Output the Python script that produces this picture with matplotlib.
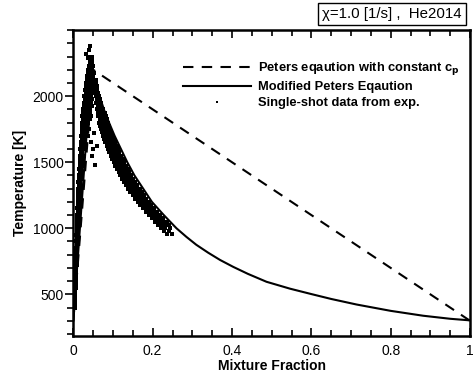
import matplotlib
matplotlib.use('Agg')
import matplotlib.pyplot as plt
from matplotlib.ticker import MultipleLocator

plt.rcParams['font.family'] = ['Liberation Sans', 'DejaVu Sans']

# Peters equation with constant cp (dashed)
peters_z = [0.0, 0.05, 1.0]
peters_T = [300, 2200, 300]

# Modified Peters equation (solid)
mod_z = [0.0, 0.045, 0.055, 0.065, 0.077, 0.09, 0.104, 0.12, 0.136, 0.154,
         0.176, 0.198, 0.228, 0.26, 0.285, 0.31, 0.34, 0.37, 0.403, 0.44,
         0.487, 0.546, 0.6, 0.65, 0.714, 0.8, 0.882, 0.95, 1.0]
mod_T = [300, 2200, 2100, 2010, 1900, 1800, 1700, 1600, 1500, 1400,
         1300, 1200, 1100, 1000, 935, 875, 815, 760, 708, 655,
         595, 543, 502, 465, 423, 375, 338, 315, 303]

# single-shot experimental data, read off the picture row by row
# (temperature level -> mixture fractions of the dots at that level)
exp_T_levels = [
    400, 425, 450, 475, 500, 525, 550, 575, 600, 625, 650, 675, 700, 725, 750,
    775, 800, 825, 850, 875, 900, 925, 950, 975, 1000, 1025, 1050, 1075, 1100,
    1125, 1150, 1175, 1200, 1225, 1250, 1275, 1300, 1325, 1350, 1375, 1400,
    1425, 1450, 1475, 1500, 1525, 1550, 1575, 1600, 1625, 1650, 1675, 1700,
    1725, 1750, 1775, 1800, 1825, 1850, 1875, 1900, 1925, 1950, 1975, 2000,
    2025, 2050, 2075, 2100, 2125, 2150, 2175, 2200, 2225, 2250, 2275, 2300,
    2290, 2320, 2350, 2380,
    # falling branch
    2125, 2100, 2075, 2050, 2025, 2000, 1975, 1950, 1925, 1900, 1875, 1850,
    1825, 1800, 1775, 1750, 1725, 1700, 1675, 1650, 1625, 1600, 1575, 1550,
    1525, 1500, 1475, 1450, 1425, 1400, 1375, 1350, 1325, 1300, 1275, 1250,
    1225, 1200, 1175, 1150, 1125, 1100, 1075, 1050, 1025, 1000, 980, 960,
    # scattered dots inside the peak
    1750, 1720, 1700, 1650, 1620, 1600, 1550, 1480,
]
exp_z_at_level = [
    [0.003], [0.004], [0.004], [0.003, 0.005], [0.004, 0.005], [0.005],
    [0.004, 0.006], [0.005, 0.006], [0.005, 0.006], [0.004, 0.007],
    [0.005, 0.007], [0.006], [0.005, 0.007], [0.006, 0.008], [0.006, 0.008],
    [0.007], [0.006, 0.008], [0.007, 0.009], [0.006, 0.009], [0.008],
    [0.007, 0.009], [0.008, 0.010], [0.007, 0.010], [0.009, 0.011],
    [0.008, 0.011], [0.009, 0.012], [0.009, 0.012], [0.010, 0.013],
    [0.010, 0.013], [0.011, 0.014], [0.010, 0.014], [0.012, 0.015],
    [0.011, 0.015], [0.012, 0.016], [0.012, 0.016], [0.013, 0.017],
    [0.012, 0.017], [0.014, 0.018], [0.013, 0.018], [0.015, 0.019],
    [0.014, 0.019, 0.023], [0.016, 0.020], [0.015, 0.020],
    [0.017, 0.021, 0.024], [0.016, 0.021, 0.025], [0.018, 0.022],
    [0.017, 0.022, 0.026], [0.019, 0.023], [0.018, 0.023, 0.027],
    [0.020, 0.025, 0.029], [0.019, 0.024, 0.030], [0.021, 0.026],
    [0.020, 0.025, 0.028, 0.033], [0.022, 0.027, 0.031],
    [0.021, 0.026, 0.031, 0.036], [0.023, 0.028, 0.033],
    [0.022, 0.027, 0.032, 0.038], [0.024, 0.029, 0.035, 0.041],
    [0.023, 0.028, 0.034, 0.045], [0.025, 0.030, 0.037, 0.043],
    [0.024, 0.029, 0.035, 0.042], [0.027, 0.032, 0.039, 0.047],
    [0.026, 0.031, 0.037, 0.044], [0.029, 0.035, 0.041, 0.048],
    [0.028, 0.033, 0.038, 0.045], [0.031, 0.036, 0.043, 0.050],
    [0.030, 0.035, 0.040, 0.046], [0.033, 0.038, 0.044, 0.051],
    [0.032, 0.037, 0.042, 0.048], [0.034, 0.040, 0.046, 0.052],
    [0.035, 0.040, 0.045, 0.050], [0.037, 0.043, 0.048, 0.053],
    [0.038, 0.043, 0.048], [0.040, 0.045, 0.050], [0.041, 0.046],
    [0.043, 0.048], [0.042, 0.046],
    [0.036], [0.033], [0.040], [0.042],
    # falling branch
    [0.053, 0.056], [0.054, 0.058], [0.055, 0.059], [0.056, 0.060],
    [0.058, 0.062], [0.056, 0.060, 0.064], [0.059, 0.063, 0.067],
    [0.058, 0.063, 0.069], [0.061, 0.066, 0.071], [0.060, 0.066, 0.071, 0.076],
    [0.063, 0.069, 0.074, 0.079], [0.062, 0.069, 0.075, 0.082],
    [0.066, 0.072, 0.078, 0.084], [0.065, 0.072, 0.079, 0.087],
    [0.068, 0.075, 0.082, 0.089], [0.070, 0.077, 0.084, 0.093],
    [0.073, 0.080, 0.087, 0.095], [0.075, 0.082, 0.090, 0.099],
    [0.078, 0.085, 0.093, 0.102], [0.080, 0.088, 0.096, 0.106],
    [0.084, 0.091, 0.099, 0.109], [0.087, 0.095, 0.103, 0.113],
    [0.090, 0.098, 0.107, 0.116], [0.094, 0.102, 0.111, 0.120],
    [0.098, 0.106, 0.115, 0.124], [0.102, 0.110, 0.119, 0.128],
    [0.106, 0.114, 0.123, 0.132], [0.110, 0.118, 0.127, 0.137],
    [0.114, 0.122, 0.131, 0.141], [0.118, 0.127, 0.136, 0.146],
    [0.123, 0.132, 0.141, 0.151], [0.128, 0.137, 0.146, 0.156],
    [0.133, 0.142, 0.151, 0.161], [0.139, 0.148, 0.157, 0.167],
    [0.144, 0.154, 0.163, 0.172], [0.150, 0.160, 0.169, 0.178],
    [0.156, 0.166, 0.175, 0.184], [0.162, 0.172, 0.181, 0.190],
    [0.169, 0.178, 0.188, 0.197], [0.176, 0.185, 0.194, 0.203],
    [0.183, 0.193, 0.202, 0.211], [0.190, 0.200, 0.210, 0.218],
    [0.198, 0.208, 0.218, 0.227], [0.205, 0.215, 0.226, 0.235],
    [0.214, 0.224, 0.234, 0.241], [0.222, 0.232, 0.243], [0.228, 0.240],
    [0.235, 0.248],
    # scattered dots inside the peak
    [0.040], [0.052], [0.038], [0.045], [0.060], [0.050], [0.048], [0.055],
]

x_ticks = [0, 0.2, 0.4, 0.6, 0.8, 1.0]
x_ticklabels = ['0', '0.2', '0.4', '0.6', '0.8', '1']
y_ticks = [500, 1000, 1500, 2000]

exp_z, exp_T = [], []
for t, zs in zip(exp_T_levels, exp_z_at_level):
    for z in zs:
        exp_z.append(z)
        exp_T.append(t)

fig = plt.figure(figsize=(4.74, 3.76), dpi=100)
ax = fig.add_axes([0.1547, 0.1072, 0.8369, 0.8128])

ax.plot(peters_z, peters_T, 'k--', lw=1.5, dashes=(5, 4),
        label='Peters eqaution with constant c$_\\mathbf{p}$')
ax.plot(mod_z, mod_T, 'k-', lw=1.5, label='Modified Peters Eqaution')
ax.plot(exp_z, exp_T, 's', color='k', ms=2.3, mew=0, label='Single-shot data from exp.')

ax.set_xlim(0, 1)
ax.set_ylim(187, 2500)
ax.set_xticks(x_ticks)
ax.set_xticklabels(x_ticklabels)
ax.set_yticks(y_ticks)
ax.xaxis.set_minor_locator(MultipleLocator(0.05))
ax.yaxis.set_minor_locator(MultipleLocator(100))
ax.tick_params(axis='x', which='both', direction='in', top=True, labelsize=10, width=1.2)
ax.tick_params(axis='x', which='major', length=6, pad=6)
ax.tick_params(axis='x', which='minor', length=4)
ax.tick_params(axis='y', which='both', direction='out', labelsize=10, width=1.2)
ax.tick_params(axis='y', which='major', length=6, pad=1)
ax.tick_params(axis='y', which='minor', length=4)
for s in ax.spines.values():
    s.set_linewidth(1.8)

ax.set_xlabel('Mixture Fraction', fontsize=10, fontweight='bold', labelpad=1)
ax.set_ylabel('Temperature [K]', fontsize=10, fontweight='bold', labelpad=4)

leg = ax.legend(loc='upper right', bbox_to_anchor=(1.0, 0.935), frameon=False,
                handlelength=5.3, prop={'weight': 'bold', 'size': 9.3},
                borderaxespad=0.4, labelspacing=0.3, markerscale=0.8,
                handletextpad=0.5)

fig.text(0.974, 0.963, 'χ=1.0 [1/s] ,  He2014', fontsize=10.8, ha='right', va='center',
         bbox=dict(boxstyle='square,pad=0.28', fc='white', ec='k', lw=1))

fig.savefig('out.png', dpi=100)
